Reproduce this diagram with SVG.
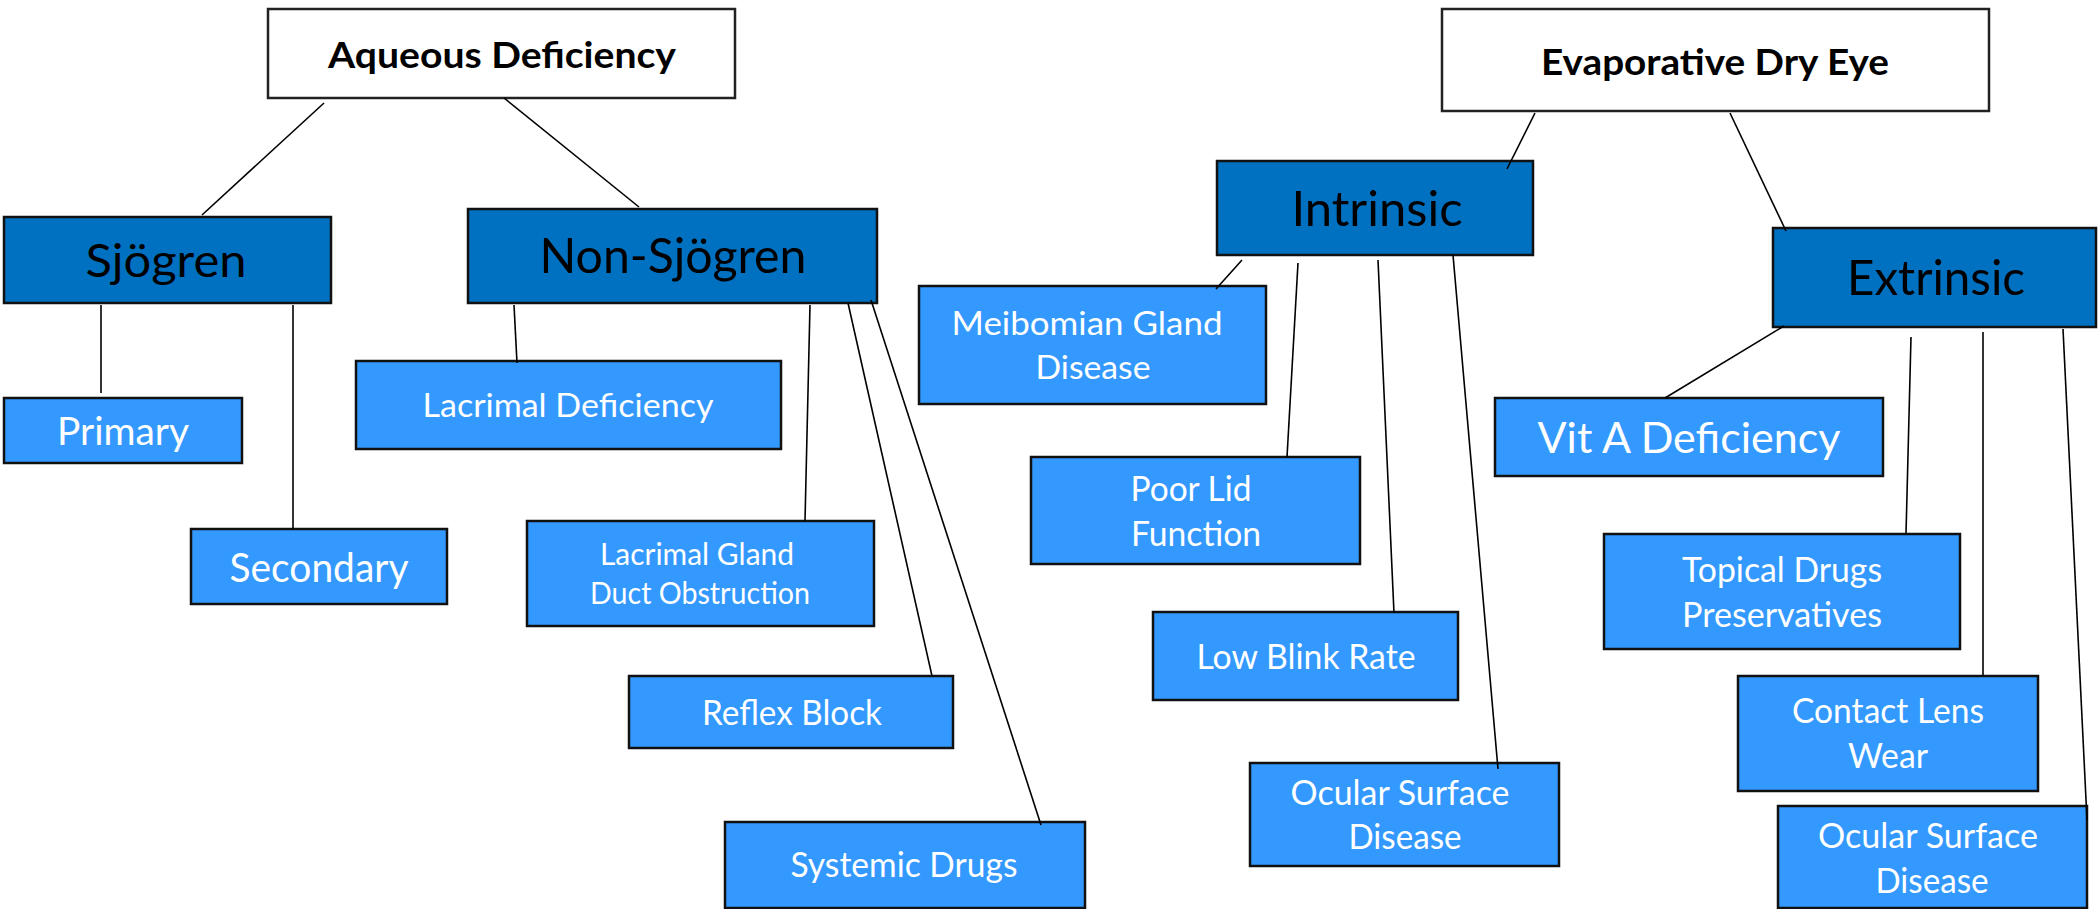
<svg xmlns="http://www.w3.org/2000/svg" width="2099" height="909" viewBox="0 0 2099 909">
<style>
.title rect{fill:#ffffff;stroke:#222;stroke-width:2.5}
.cat rect{fill:#0070C0;stroke:#111;stroke-width:2.5}
.leaf rect{fill:#3399FF;stroke:#111;stroke-width:2.5}
text{font-family:Lato,"Open Sans","Liberation Sans",sans-serif;text-anchor:middle}
.title text{font-weight:bold;fill:#000;font-size:37px}
.cat text{fill:#000;font-size:49px}
.leaf text{fill:#fff;font-size:35px}
#connectors line{stroke:#000;stroke-width:1.6}
</style>
<rect width="2099" height="909" fill="#fff"/>
<g id="aqueous" class="title"><rect x="268" y="9" width="467" height="89"/><text x="502" y="68" textLength="348" lengthAdjust="spacingAndGlyphs">Aqueous Deficiency</text></g>
<g id="evaporative" class="title"><rect x="1442" y="9" width="547" height="102"/><text x="1715" y="75" textLength="348" lengthAdjust="spacingAndGlyphs">Evaporative Dry Eye</text></g>
<g id="sjogren" class="cat"><rect x="4" y="217" width="327" height="86"/><text x="166" y="277" style="font-size:47px" textLength="161" lengthAdjust="spacingAndGlyphs">Sjögren</text></g>
<g id="nonsjogren" class="cat"><rect x="468" y="209" width="409" height="94"/><text x="673" y="273" textLength="267" lengthAdjust="spacingAndGlyphs">Non-Sjögren</text></g>
<g id="intrinsic" class="cat"><rect x="1217" y="161" width="316" height="94"/><text x="1377" y="226" textLength="171" lengthAdjust="spacingAndGlyphs">Intrinsic</text></g>
<g id="extrinsic" class="cat"><rect x="1773" y="228" width="323" height="99"/><text x="1936" y="295" textLength="178" lengthAdjust="spacingAndGlyphs">Extrinsic</text></g>
<g id="primary" class="leaf"><rect x="4" y="398" width="238" height="65"/><text x="123" y="445" style="font-size:39px" textLength="132" lengthAdjust="spacingAndGlyphs">Primary</text></g>
<g id="secondary" class="leaf"><rect x="191" y="529" width="256" height="75"/><text x="319" y="582" style="font-size:41px" textLength="179" lengthAdjust="spacingAndGlyphs">Secondary</text></g>
<g id="lacrimal-deficiency" class="leaf"><rect x="356" y="361" width="425" height="88"/><text x="568" y="417" style="font-size:33px" textLength="291" lengthAdjust="spacingAndGlyphs">Lacrimal Deficiency</text></g>
<g id="lacrimal-gland" class="leaf"><rect x="527" y="521" width="347" height="105"/><text x="697" y="565" style="font-size:30px" textLength="194" lengthAdjust="spacingAndGlyphs">Lacrimal Gland</text><text x="700" y="604" style="font-size:30px" textLength="220" lengthAdjust="spacingAndGlyphs">Duct Obstruction</text></g>
<g id="reflex-block" class="leaf"><rect x="629" y="676" width="324" height="72"/><text x="792" y="725" textLength="180" lengthAdjust="spacingAndGlyphs">Reflex Block</text></g>
<g id="systemic-drugs" class="leaf"><rect x="725" y="822" width="360" height="86"/><text x="904" y="877" textLength="227" lengthAdjust="spacingAndGlyphs">Systemic Drugs</text></g>
<g id="meibomian" class="leaf"><rect x="919" y="286" width="347" height="118"/><text x="1087" y="335" style="font-size:33px" textLength="271" lengthAdjust="spacingAndGlyphs">Meibomian Gland</text><text x="1093" y="379" style="font-size:33px" textLength="115" lengthAdjust="spacingAndGlyphs">Disease</text></g>
<g id="poor-lid" class="leaf"><rect x="1031" y="457" width="329" height="107"/><text x="1191" y="501" textLength="121" lengthAdjust="spacingAndGlyphs">Poor Lid</text><text x="1196" y="546" textLength="130" lengthAdjust="spacingAndGlyphs">Function</text></g>
<g id="low-blink" class="leaf"><rect x="1153" y="612" width="305" height="88"/><text x="1306" y="669" textLength="219" lengthAdjust="spacingAndGlyphs">Low Blink Rate</text></g>
<g id="ocular-surface-1" class="leaf"><rect x="1250" y="763" width="309" height="103"/><text x="1400" y="805" textLength="219" lengthAdjust="spacingAndGlyphs">Ocular Surface</text><text x="1405" y="849" textLength="113" lengthAdjust="spacingAndGlyphs">Disease</text></g>
<g id="vit-a" class="leaf"><rect x="1495" y="398" width="388" height="78"/><text x="1689" y="453" style="font-size:43px" textLength="303" lengthAdjust="spacingAndGlyphs">Vit A Deficiency</text></g>
<g id="topical-drugs" class="leaf"><rect x="1604" y="534" width="356" height="115"/><text x="1782" y="582" textLength="200" lengthAdjust="spacingAndGlyphs">Topical Drugs</text><text x="1782" y="627" textLength="200" lengthAdjust="spacingAndGlyphs">Preservatives</text></g>
<g id="contact-lens" class="leaf"><rect x="1738" y="676" width="300" height="115"/><text x="1888" y="723" textLength="192" lengthAdjust="spacingAndGlyphs">Contact Lens</text><text x="1888" y="768" textLength="80" lengthAdjust="spacingAndGlyphs">Wear</text></g>
<g id="ocular-surface-2" class="leaf"><rect x="1778" y="806" width="309" height="102"/><text x="1928" y="848" textLength="220" lengthAdjust="spacingAndGlyphs">Ocular Surface</text><text x="1932" y="893" textLength="113" lengthAdjust="spacingAndGlyphs">Disease</text></g>
<g id="connectors">
<line x1="324" y1="103" x2="202" y2="215"/>
<line x1="504" y1="98" x2="639" y2="207"/>
<line x1="101" y1="305" x2="101" y2="393"/>
<line x1="293" y1="305" x2="293" y2="529"/>
<line x1="514" y1="305" x2="517" y2="363"/>
<line x1="810" y1="305" x2="805" y2="521"/>
<line x1="848" y1="303" x2="932" y2="676"/>
<line x1="871" y1="300" x2="1041" y2="825"/>
<line x1="1535" y1="113" x2="1507" y2="169"/>
<line x1="1730" y1="113" x2="1786" y2="231"/>
<line x1="1242" y1="260" x2="1216" y2="289"/>
<line x1="1298" y1="263" x2="1287" y2="457"/>
<line x1="1378" y1="260" x2="1394" y2="613"/>
<line x1="1453" y1="255" x2="1498" y2="769"/>
<line x1="1784" y1="326" x2="1665" y2="398"/>
<line x1="1911" y1="337" x2="1906" y2="534"/>
<line x1="1983" y1="332" x2="1983" y2="676"/>
<line x1="2063" y1="329" x2="2087" y2="820"/>
</g>
</svg>
